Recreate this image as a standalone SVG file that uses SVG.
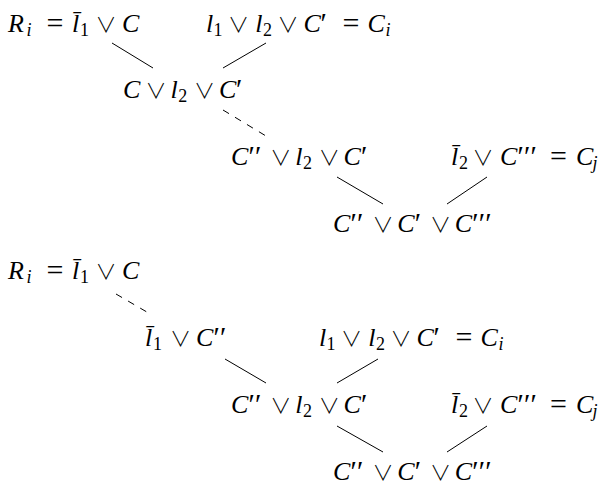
<svg xmlns="http://www.w3.org/2000/svg" width="606" height="491" viewBox="0 0 606 491">
<style>
.t{font-family:"Liberation Serif","DejaVu Serif",serif;font-size:26px;fill:#000}
.i{font-style:italic}
.s{font-size:18px}
.p{font-size:29px}
.q{font-size:30px;text-anchor:middle}
.v{font-family:"Noto Sans CJK JP","DejaVu Sans",sans-serif;font-size:21px;font-weight:300;text-anchor:middle}
.e line{stroke:#000;stroke-width:1;fill:none}
.e line.d{stroke-dasharray:7 7}
</style>
<rect width="606" height="491" fill="#fff"/>
<g class="e" id="connectors">
<line x1="112" y1="43" x2="153" y2="68"/>
<line x1="266" y1="43" x2="223" y2="68"/>
<line class="d" x1="223" y1="110" x2="266" y2="136"/>
<line x1="337" y1="177" x2="383" y2="204"/>
<line x1="487" y1="177" x2="447" y2="204"/>
<line class="d" x1="116" y1="294" x2="152" y2="315"/>
<line x1="225" y1="359" x2="266" y2="383"/>
<line x1="378" y1="359" x2="337" y2="383"/>
<line x1="337" y1="426" x2="383" y2="452"/>
<line x1="487" y1="426" x2="447" y2="452"/>
</g>
<g id="n1"><text class="t"><tspan class="i" x="8" y="32">R</tspan><tspan class="i s" x="26.5" y="36">i</tspan><tspan class="q" x="55" y="33">=</tspan><tspan class="i" x="72" y="32">l̄</tspan><tspan class="s" x="80" y="36">1</tspan><tspan class="v" x="106" y="32">∨</tspan><tspan class="i" x="122" y="32">C</tspan></text></g>
<g id="n2"><text class="t"><tspan class="i" x="206" y="32">l</tspan><tspan class="s" x="213.5" y="36">1</tspan><tspan class="v" x="238.5" y="32">∨</tspan><tspan class="i" x="255.3" y="32">l</tspan><tspan class="s" x="263" y="36">2</tspan><tspan class="v" x="288" y="32">∨</tspan><tspan class="i" x="303.6" y="32">C</tspan><tspan class="p" x="320.5" y="33">′</tspan><tspan class="q" x="351" y="33">=</tspan><tspan class="i" x="367.5" y="32">C</tspan><tspan class="i s" x="385.5" y="36">i</tspan></text></g>
<g id="n3"><text class="t"><tspan class="i" x="123" y="98">C</tspan><tspan class="v" x="156" y="98">∨</tspan><tspan class="i" x="170.5" y="98">l</tspan><tspan class="s" x="178.2" y="102">2</tspan><tspan class="v" x="204.4" y="98">∨</tspan><tspan class="i" x="219" y="98">C</tspan><tspan class="p" x="236" y="99">′</tspan></text></g>
<g id="n4"><text class="t"><tspan class="i" x="231" y="165">C</tspan><tspan class="p" x="248.5" y="166">′</tspan><tspan class="p" x="255" y="166">′</tspan><tspan class="v" x="280.8" y="165">∨</tspan><tspan class="i" x="295.3" y="165">l</tspan><tspan class="s" x="303" y="169">2</tspan><tspan class="v" x="329.2" y="165">∨</tspan><tspan class="i" x="343.6" y="165">C</tspan><tspan class="p" x="361" y="166">′</tspan></text></g>
<g id="n5"><text class="t"><tspan class="i" x="451" y="165">l̄</tspan><tspan class="s" x="459" y="169">2</tspan><tspan class="v" x="483" y="165">∨</tspan><tspan class="i" x="500" y="165">C</tspan><tspan class="p" x="517.5" y="166">′</tspan><tspan class="p" x="524" y="166">′</tspan><tspan class="p" x="530.5" y="166">′</tspan><tspan class="q" x="558.5" y="166">=</tspan><tspan class="i" x="576" y="165">C</tspan><tspan class="i s" x="592.5" y="169">j</tspan></text></g>
<g id="n6"><text class="t"><tspan class="i" x="333" y="232">C</tspan><tspan class="p" x="350.5" y="233">′</tspan><tspan class="p" x="357" y="233">′</tspan><tspan class="v" x="382.9" y="232">∨</tspan><tspan class="i" x="397.3" y="232">C</tspan><tspan class="p" x="414.8" y="233">′</tspan><tspan class="v" x="440.4" y="232">∨</tspan><tspan class="i" x="454.8" y="232">C</tspan><tspan class="p" x="472.3" y="233">′</tspan><tspan class="p" x="478.8" y="233">′</tspan><tspan class="p" x="485.3" y="233">′</tspan></text></g>
<g id="m1"><text class="t"><tspan class="i" x="8" y="279">R</tspan><tspan class="i s" x="26.5" y="283">i</tspan><tspan class="q" x="55" y="280">=</tspan><tspan class="i" x="72" y="279">l̄</tspan><tspan class="s" x="80" y="283">1</tspan><tspan class="v" x="106" y="279">∨</tspan><tspan class="i" x="122" y="279">C</tspan></text></g>
<g id="m2"><text class="t"><tspan class="i" x="145" y="346">l̄</tspan><tspan class="s" x="153" y="350">1</tspan><tspan class="v" x="180.5" y="346">∨</tspan><tspan class="i" x="196" y="346">C</tspan><tspan class="p" x="213.5" y="347">′</tspan><tspan class="p" x="220" y="347">′</tspan></text></g>
<g id="m3"><text class="t"><tspan class="i" x="319" y="346">l</tspan><tspan class="s" x="326.5" y="350">1</tspan><tspan class="v" x="351.5" y="346">∨</tspan><tspan class="i" x="368.3" y="346">l</tspan><tspan class="s" x="376" y="350">2</tspan><tspan class="v" x="401" y="346">∨</tspan><tspan class="i" x="416.6" y="346">C</tspan><tspan class="p" x="433.5" y="347">′</tspan><tspan class="q" x="464" y="347">=</tspan><tspan class="i" x="480.5" y="346">C</tspan><tspan class="i s" x="498.5" y="350">i</tspan></text></g>
<g id="m4"><text class="t"><tspan class="i" x="231" y="413">C</tspan><tspan class="p" x="248.5" y="414">′</tspan><tspan class="p" x="255" y="414">′</tspan><tspan class="v" x="280.8" y="413">∨</tspan><tspan class="i" x="295.3" y="413">l</tspan><tspan class="s" x="303" y="417">2</tspan><tspan class="v" x="329.2" y="413">∨</tspan><tspan class="i" x="343.6" y="413">C</tspan><tspan class="p" x="361" y="414">′</tspan></text></g>
<g id="m5"><text class="t"><tspan class="i" x="451" y="413">l̄</tspan><tspan class="s" x="459" y="417">2</tspan><tspan class="v" x="483" y="413">∨</tspan><tspan class="i" x="500" y="413">C</tspan><tspan class="p" x="517.5" y="414">′</tspan><tspan class="p" x="524" y="414">′</tspan><tspan class="p" x="530.5" y="414">′</tspan><tspan class="q" x="558.5" y="414">=</tspan><tspan class="i" x="576" y="413">C</tspan><tspan class="i s" x="592.5" y="417">j</tspan></text></g>
<g id="m6"><text class="t"><tspan class="i" x="333" y="480">C</tspan><tspan class="p" x="350.5" y="481">′</tspan><tspan class="p" x="357" y="481">′</tspan><tspan class="v" x="382.9" y="480">∨</tspan><tspan class="i" x="397.3" y="480">C</tspan><tspan class="p" x="414.8" y="481">′</tspan><tspan class="v" x="440.4" y="480">∨</tspan><tspan class="i" x="454.8" y="480">C</tspan><tspan class="p" x="472.3" y="481">′</tspan><tspan class="p" x="478.8" y="481">′</tspan><tspan class="p" x="485.3" y="481">′</tspan></text></g>
</svg>
